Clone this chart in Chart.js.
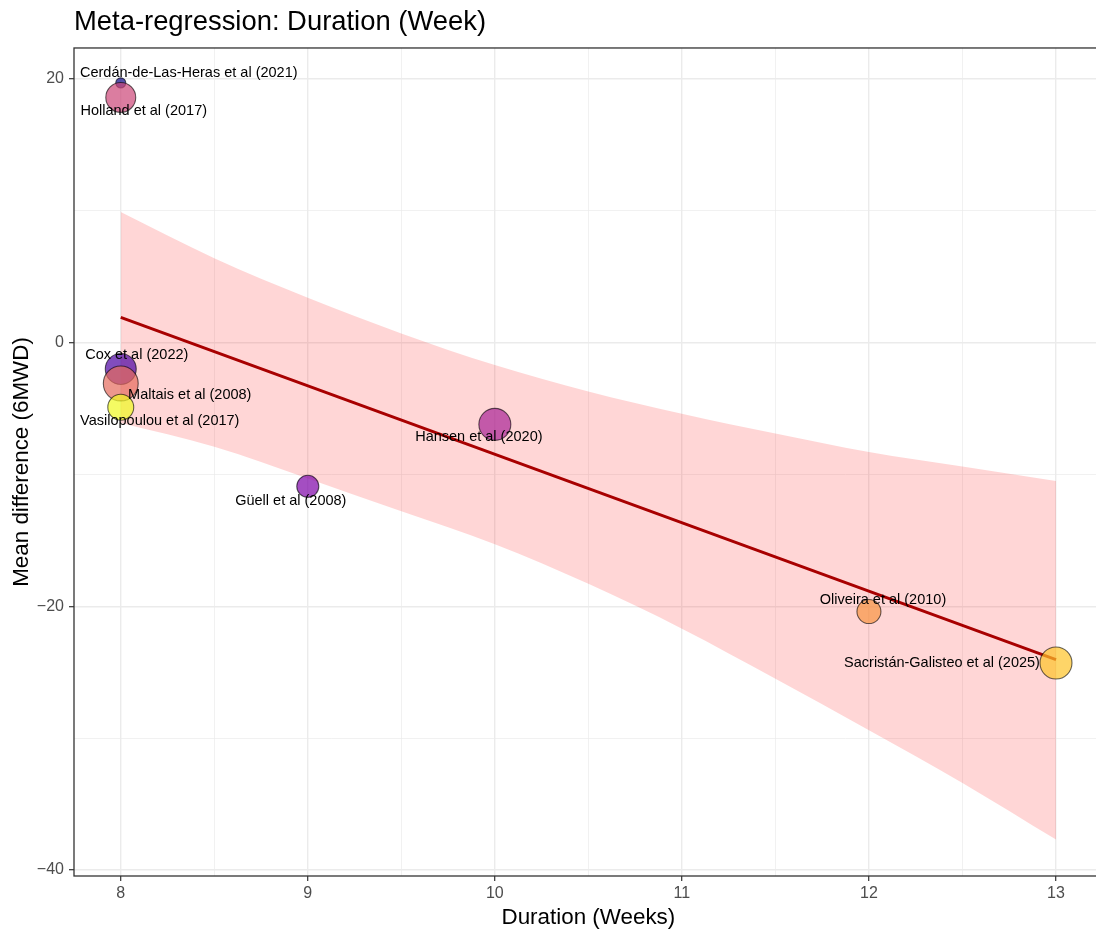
<!DOCTYPE html>
<html>
<head>
<meta charset="utf-8">
<title>Meta-regression: Duration (Week)</title>
<script src="https://cdn.jsdelivr.net/npm/chart.js@4.4.1/dist/chart.umd.min.js"></script>
<style>
  html, body { margin: 0; padding: 0; background: #fff; overflow: hidden; }
  #wrap { width: 1096px; height: 932px; overflow: hidden; position: relative; }
  canvas { display: block; }
</style>
</head>
<body>
<div id="wrap"><canvas id="chart" width="1110" height="932"></canvas></div>
<script>
// Studies (alphabetical, as plotted)
const studies = [
  'Cerdán-de-Las-Heras et al (2021)',
  'Cox et al (2022)',
  'Güell et al (2008)',
  'Hansen et al (2020)',
  'Holland et al (2017)',
  'Maltais et al (2008)',
  'Oliveira et al (2010)',
  'Sacristán-Galisteo et al (2025)',
  'Vasilopoulou et al (2017)'
];
// Programme duration in weeks
const durationWeeks = [8, 8, 9, 10, 8, 8, 12, 13, 8];
// Mean difference in 6MWD (m)
const meanDiff = [19.7, -2.0, -10.9, -6.2, 18.6, -3.1, -20.4, -24.3, -4.9];
// Relative study weight (%)
const studyWeight = [1.6, 15, 7.6, 16, 14, 19, 9, 16, 10.5];

// Fitted meta-regression line (endpoints over the observed range)
const fitX = [8, 13];
const fitY = [1.92, -24.05];

// 95% confidence band of the fit
const bandX = [8, 8.5, 9, 9.5, 10, 10.5, 11, 11.5, 12, 12.5, 13];
const bandUpper = [9.9, 6.4, 3.4, 0.7, -1.7, -3.7, -5.4, -6.9, -8.3, -9.4, -10.5];
const bandLower = [-6.1, -7.9, -10.3, -12.8, -15.3, -18.3, -21.7, -25.5, -29.4, -33.4, -37.7];

// Axis breaks
const xBreaks = [8, 8.5, 9, 9.5, 10, 10.5, 11, 11.5, 12, 12.5, 13];
const yBreaks = [-40, -30, -20, -10, 0, 10, 20];

// ---- presentation ----
const plasma9 = ['#0D0887', '#4C02A1', '#7E03A8', '#A92395', '#CC4678',
                 '#E56B5D', '#F89441', '#FDC328', '#F0F921'];
function withAlpha(hex, a) {
  const n = parseInt(hex.slice(1), 16);
  return `rgba(${(n >> 16) & 255},${(n >> 8) & 255},${n & 255},${a})`;
}
// text nudges (px) for the repelled labels
const labelNudge = [
  [68, -10], [16, -14], [-17, 15], [-16, 13], [23, 14],
  [69, 12], [14, -12], [-114, 0], [39, 14]
];
const FONT = '"Liberation Sans", Arial, Helvetica, sans-serif';
const fmt = v => (v < 0 ? '\u2212' + Math.abs(v) : String(v));

const pointData = durationWeeks.map((x, i) => ({ x, y: meanDiff[i] }));
const radii = studyWeight.map(w => 4 * Math.sqrt(w));

const studyLabels = {
  id: 'studyLabels',
  afterDatasetsDraw(chart) {
    const ctx = chart.ctx;
    const meta = chart.getDatasetMeta(0);
    ctx.save();
    ctx.font = `14.5px ${FONT}`;
    ctx.fillStyle = '#000';
    ctx.textAlign = 'center';
    ctx.textBaseline = 'middle';
    meta.data.forEach((pt, i) => {
      ctx.fillText(studies[i], pt.x + labelNudge[i][0], pt.y + labelNudge[i][1]);
    });
    // panel border
    const a = chart.chartArea;
    ctx.strokeStyle = '#333333';
    ctx.lineWidth = 1.3;
    ctx.strokeRect(a.left, a.top, a.right - a.left, a.bottom - a.top);
    ctx.restore();
  }
};

new Chart(document.getElementById('chart'), {
  type: 'scatter',
  data: {
    datasets: [
      {
        label: 'Studies',
        data: pointData,
        order: 0,
        pointRadius: radii,
        pointHoverRadius: radii,
        pointBackgroundColor: plasma9.map(c => withAlpha(c, 0.7)),
        pointBorderColor: 'rgba(0,0,0,0.6)',
        pointBorderWidth: 1.1,
        showLine: false
      },
      {
        label: 'Fit',
        type: 'line',
        data: fitX.map((x, i) => ({ x, y: fitY[i] })),
        order: 1,
        borderColor: '#A80000',
        borderWidth: 3,
        pointRadius: 0,
        fill: false
      },
      {
        label: 'Upper',
        type: 'line',
        data: bandX.map((x, i) => ({ x, y: bandUpper[i] })),
        order: 2,
        borderWidth: 0,
        borderColor: 'rgba(0,0,0,0)',
        backgroundColor: 'rgba(255,0,0,0.16)',
        pointRadius: 0,
        cubicInterpolationMode: 'monotone',
        fill: '+1'
      },
      {
        label: 'Lower',
        type: 'line',
        data: bandX.map((x, i) => ({ x, y: bandLower[i] })),
        order: 3,
        borderWidth: 0,
        borderColor: 'rgba(0,0,0,0)',
        pointRadius: 0,
        cubicInterpolationMode: 'monotone',
        fill: false
      }
    ]
  },
  options: {
    responsive: false,
    animation: false,
    devicePixelRatio: 1,
    layout: { autoPadding: false, padding: { left: 0, right: 7.25, top: 0, bottom: 0 } },
    plugins: {
      legend: { display: false },
      tooltip: { enabled: false },
      title: {
        display: true,
        text: 'Meta-regression: Duration (Week)',
        align: 'start',
        fullSize: false,
        color: '#000',
        font: { family: FONT, size: 27.4, weight: 'normal' },
        padding: { top: 6.5, bottom: 8.6 }
      }
    },
    scales: {
      x: {
        type: 'linear',
        min: 7.75,
        max: 13.25,
        afterBuildTicks: s => { s.ticks = xBreaks.map(v => ({ value: v })); },
        afterFit: s => { s.height = 56; s.paddingLeft = 0; s.paddingRight = 0; },
        ticks: {
          autoSkip: false,
          maxRotation: 0,
          padding: 2.5,
          color: '#4D4D4D',
          font: { family: FONT, size: 16 },
          callback: v => (Number.isInteger(v) ? fmt(v) : '')
        },
        grid: {
          color: '#EBEBEB',
          lineWidth: c => (Number.isInteger(c.tick.value) ? 1.4 : 0.7),
          tickColor: c => (Number.isInteger(c.tick.value) ? '#333333' : 'rgba(0,0,0,0)'),
          tickLength: 5,
          tickWidth: 1.2
        },
        border: { display: false },
        title: {
          display: true,
          text: 'Duration (Weeks)',
          color: '#000',
          font: { family: FONT, size: 22.4 },
          padding: { top: 0, bottom: 0.6 }
        }
      },
      y: {
        type: 'linear',
        min: -40.46,
        max: 22.35,
        afterBuildTicks: s => { s.ticks = yBreaks.map(v => ({ value: v })); },
        afterFit: s => { s.width = 74; s.paddingTop = 0; s.paddingBottom = 0; },
        ticks: {
          padding: 5,
          color: '#4D4D4D',
          font: { family: FONT, size: 16 },
          callback: v => (v % 20 === 0 ? fmt(v) : '')
        },
        grid: {
          color: '#EBEBEB',
          lineWidth: c => (c.tick.value % 20 === 0 ? 1.4 : 0.7),
          tickColor: c => (c.tick.value % 20 === 0 ? '#333333' : 'rgba(0,0,0,0)'),
          tickLength: 5,
          tickWidth: 1.2
        },
        border: { display: false },
        title: {
          display: true,
          text: 'Mean difference (6MWD)',
          color: '#000',
          font: { family: FONT, size: 22.4 },
          padding: { top: 8.6, bottom: 0 }
        }
      }
    }
  },
  plugins: [studyLabels]
});
</script>
</body>
</html>
